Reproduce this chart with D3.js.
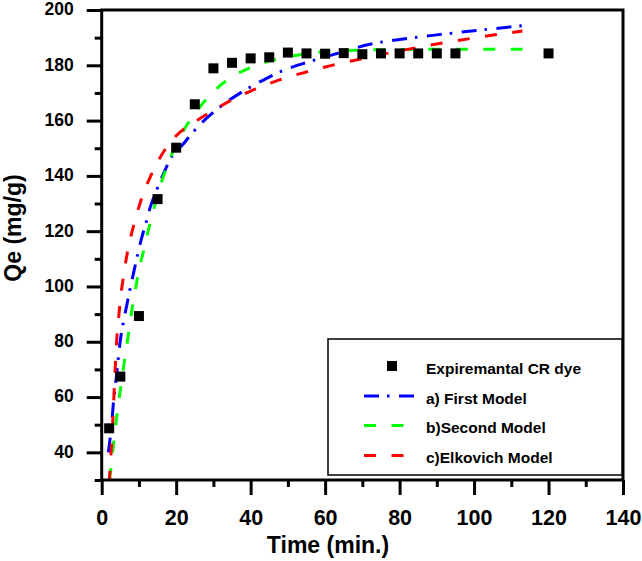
<!DOCTYPE html>
<html>
<head>
<meta charset="utf-8">
<script src="https://cdn.jsdelivr.net/npm/d3@7"></script>
<style>
html,body{margin:0;padding:0;background:#fff;}
svg text{font-family:Arial,"Liberation Sans",sans-serif;font-weight:bold;fill:#000;}
</style>
</head>
<body>
<svg id="chart" width="642" height="561"></svg>
<script>
// Experimental data
const expTime = [2, 5, 10, 15, 20, 25, 30, 35, 40, 45, 50, 55, 60, 65, 70, 75, 80, 85, 90, 95, 120];
const expQe = [48.7, 67.4, 89.3, 131.6, 150.2, 165.9, 178.9, 180.9, 182.5, 182.9, 184.6, 184.3, 184.2, 184.4, 184.0, 184.3, 184.3, 184.3, 184.3, 184.3, 184.3];

// a) First model curve (read from picture)
const firstTime = [1.8, 2.5, 3.3, 4, 4.9, 5.8, 6.7, 8, 8.9, 10.7, 12, 13, 14.5, 16.5, 18.8, 21.9, 23.7, 26, 30, 34.4, 40, 44.3, 50, 55, 60, 65, 72, 81, 90, 100, 110, 115];
const firstQe = [40, 48, 60, 68, 79.5, 87, 93, 101.5, 107, 117.4, 123.5, 128.5, 134, 140.5, 147, 151.5, 154.5, 158, 163, 167.5, 172.2, 175.3, 178.8, 181, 183, 185, 187.6, 189.5, 191, 192.5, 193.9, 194.6];

// b) Second model curve
const secondTime = [2.15, 3, 4, 5, 6, 7, 8, 9, 10, 11.2, 12, 13, 14, 15, 16.5, 18, 20, 22, 25, 30, 35, 40, 45, 50, 55, 60, 70, 80, 90, 100, 113];
const secondQe = [30, 41, 52.5, 62.5, 72, 81, 90.5, 98.5, 106, 112.6, 117.5, 122.8, 128, 133, 139.5, 145, 151.5, 156.5, 162.5, 170.5, 175.8, 179.2, 181.5, 183.1, 184.2, 184.9, 185.5, 185.7, 185.8, 185.8, 185.8];

// c) Elkovich model curve
const elovichTime = [2, 2.5, 3, 3.5, 4, 4.5, 5, 6, 7, 8, 9.5, 11, 13, 15, 17.5, 20, 25, 30, 35, 40, 45, 50, 55, 60, 70, 80, 90, 100, 113];
const elovichQe = [29, 39.5, 52, 67, 80, 88, 95, 105, 113, 119, 126.5, 133, 139.5, 145, 150.5, 154.5, 159.5, 163.7, 167.5, 170.7, 173.4, 175.7, 177.6, 179.4, 182.4, 185.2, 187.7, 189.9, 192.4];

// Axis ticks
const xMajorTicks = [0, 20, 40, 60, 80, 100, 120, 140];
const xMinorTicks = [10, 30, 50, 70, 90, 110, 130];
const yMajorTicks = [40, 60, 80, 100, 120, 140, 160, 180, 200];
const yMinorTicks = [30, 50, 70, 90, 110, 130, 150, 170, 190];

const legendLabels = ["Expiremantal CR dye", "a) First Model", "b)Second Model", "c)Elkovich Model"];
const seriesColors = ["#000000", "#0000ff", "#00ff00", "#ff0000"];

const svg = d3.select("#chart");
const L = 101.7, R = 623, T = 10, B = 480;
const x = d3.scaleLinear().domain([0, 140]).range([L, R]);
const y = d3.scaleLinear().domain([30, 200]).range([B, T]);

svg.append("defs").append("clipPath").attr("id", "clip")
  .append("rect").attr("x", L).attr("y", T).attr("width", R - L).attr("height", B - T);

// curves
const line = d3.line().x(d => x(d[0])).y(d => y(d[1])).curve(d3.curveMonotoneX);
const curves = [
  {t: firstTime, q: firstQe, color: seriesColors[1], dash: "15,8,2.5,9.5"},
  {t: secondTime, q: secondQe, color: seriesColors[2], dash: "12,15.5"},
  {t: elovichTime, q: elovichQe, color: seriesColors[3], dash: "12,15.5"}
];
const gCurves = svg.append("g").attr("clip-path", "url(#clip)");
curves.forEach(c => {
  gCurves.append("path")
    .datum(c.t.map((t, i) => [t, c.q[i]]))
    .attr("d", line)
    .attr("fill", "none")
    .attr("stroke", c.color)
    .attr("stroke-width", 3)
    .attr("stroke-dasharray", c.dash);
});

// experimental squares
const ms = 10;
svg.append("g").selectAll("rect").data(expTime.map((t, i) => [t, expQe[i]]))
  .join("rect")
  .attr("x", d => x(d[0]) - ms / 2)
  .attr("y", d => y(d[1]) - ms / 2)
  .attr("width", ms).attr("height", ms)
  .attr("fill", seriesColors[0]);

// frame
svg.append("rect").attr("x", L).attr("y", T).attr("width", R - L).attr("height", B - T)
  .attr("fill", "none").attr("stroke", "#000").attr("stroke-width", 3);

// x axis
const xAxisMajor = d3.axisBottom(x).tickValues(xMajorTicks).tickSize(15).tickSizeOuter(0).tickFormat(d3.format("d"));
const gx = svg.append("g").attr("transform", `translate(0,${B})`).call(xAxisMajor);
gx.select(".domain").remove();
gx.selectAll(".tick line").attr("stroke", "#000").attr("stroke-width", 3);
gx.selectAll(".tick text").attr("font-size", "21.5px").attr("dy", null).attr("y", 45)
  .style("font-family", "Arial, 'Liberation Sans', sans-serif").style("font-weight", "bold");
const gxm = svg.append("g").attr("transform", `translate(0,${B})`)
  .call(d3.axisBottom(x).tickValues(xMinorTicks).tickSize(7).tickSizeOuter(0).tickFormat(""));
gxm.select(".domain").remove();
gxm.selectAll(".tick line").attr("stroke", "#000").attr("stroke-width", 3);

// y axis
const gy = svg.append("g").attr("transform", `translate(${L},0)`)
  .call(d3.axisLeft(y).tickValues(yMajorTicks).tickSize(15).tickSizeOuter(0).tickFormat(d3.format("d")));
gy.select(".domain").remove();
gy.selectAll(".tick line").attr("stroke", "#000").attr("stroke-width", 3);
gy.selectAll(".tick text").attr("font-size", "17.5px").attr("x", -28).attr("dy", "0.28em")
  .style("font-family", "Arial, 'Liberation Sans', sans-serif").style("font-weight", "bold");
const gym = svg.append("g").attr("transform", `translate(${L},0)`)
  .call(d3.axisLeft(y).tickValues(yMinorTicks).tickSize(7).tickSizeOuter(0).tickFormat(""));
gym.select(".domain").remove();
gym.selectAll(".tick line").attr("stroke", "#000").attr("stroke-width", 3);

// axis titles
svg.append("text").attr("x", 328).attr("y", 553).attr("text-anchor", "middle")
  .attr("font-size", "23px").text("Time (min.)");
svg.append("text").attr("transform", "translate(20.5,228) rotate(-90)").attr("text-anchor", "middle")
  .attr("font-size", "23px").text("Qe (mg/g)");

// legend
const lg = svg.append("g");
lg.append("rect").attr("x", 328).attr("y", 339).attr("width", 294).attr("height", 136)
  .attr("fill", "#fff").attr("stroke", "#000").attr("stroke-width", 1.5);
const baselines = [373.5, 403.5, 433, 463];
legendLabels.forEach((lab, i) => {
  const cy = baselines[i] - 7.5;
  if (i === 0) {
    lg.append("rect").attr("x", 392 - 5).attr("y", cy - 5).attr("width", 10).attr("height", 10).attr("fill", seriesColors[0]);
  } else {
    lg.append("line").attr("x1", 364).attr("x2", 415).attr("y1", cy).attr("y2", cy)
      .attr("stroke", seriesColors[i]).attr("stroke-width", 3).attr("stroke-dasharray", curves[i - 1].dash);
  }
  lg.append("text").attr("x", 426).attr("y", baselines[i]).attr("font-size", "15.5px").text(lab);
});
</script>
</body>
</html>
